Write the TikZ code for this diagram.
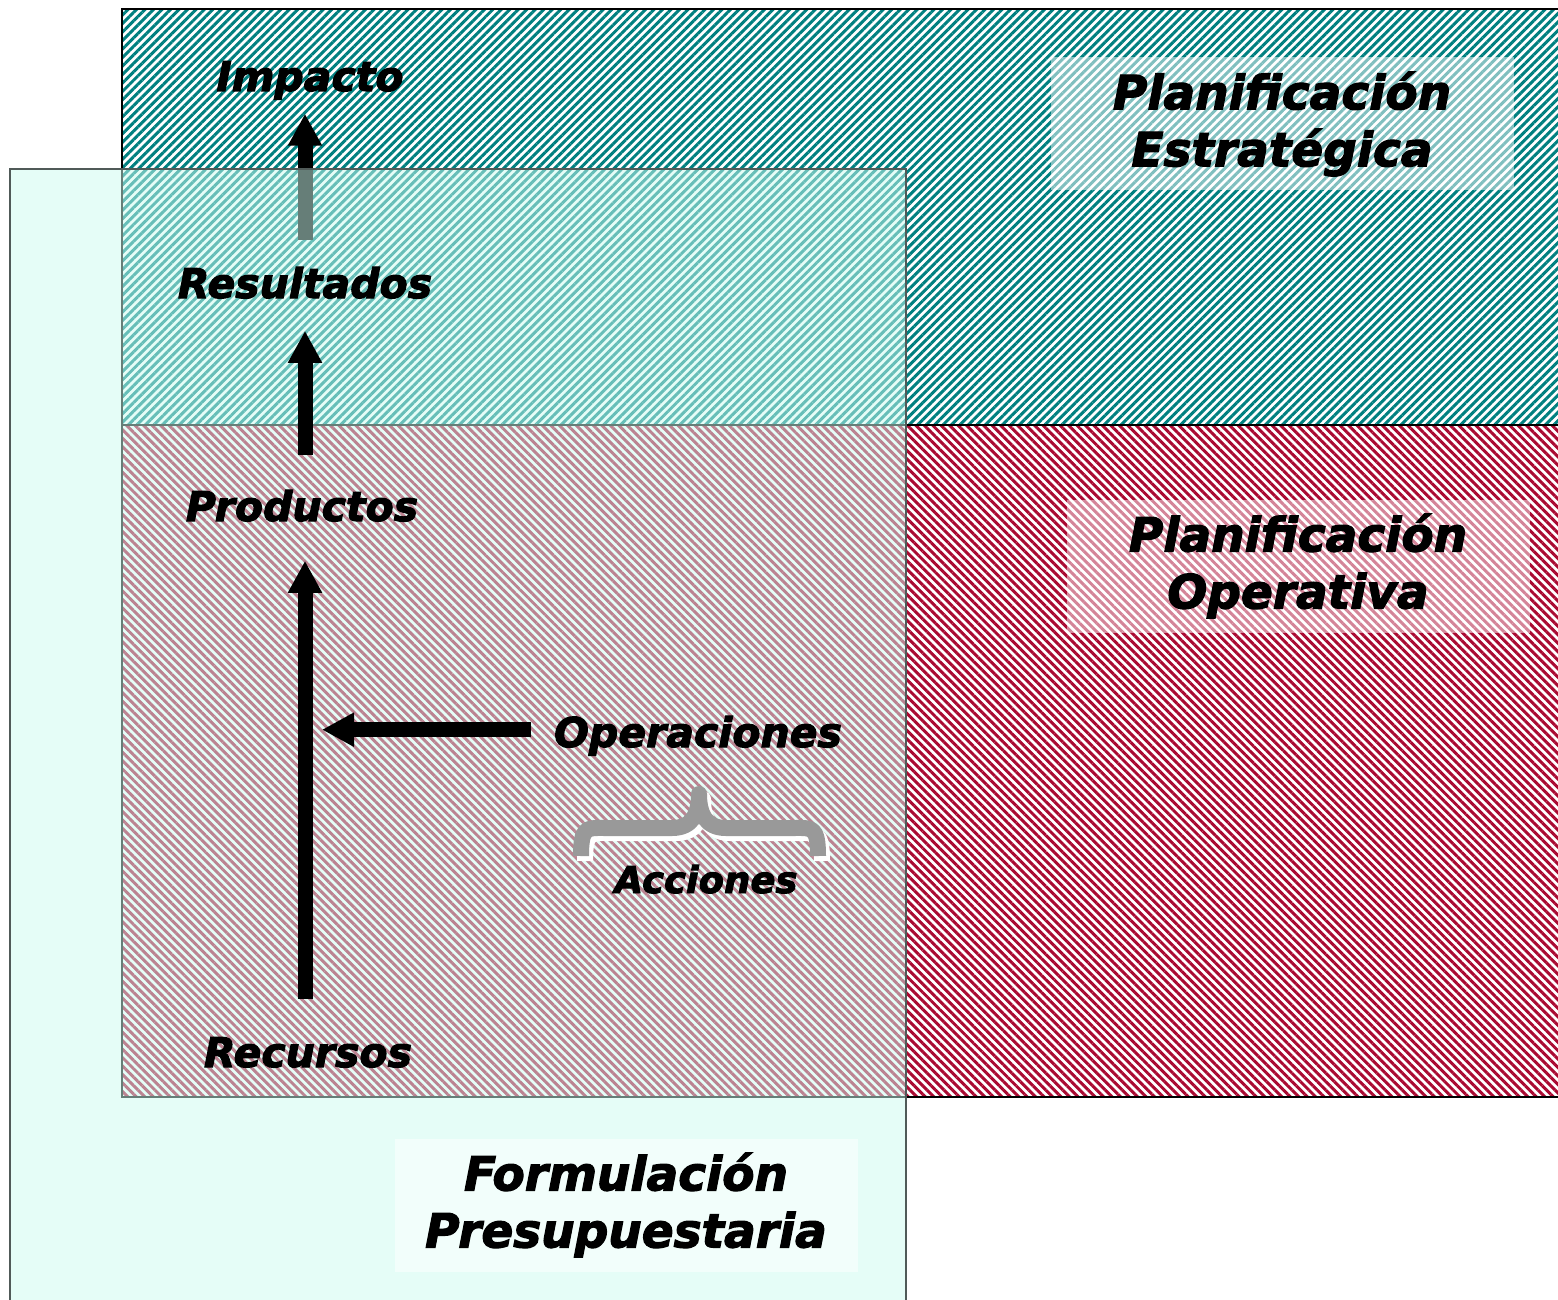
\documentclass[tikz,border=0pt]{standalone}
\usepackage{fontspec}
\setmainfont{DejaVu Sans}[BoldItalicFeatures={FakeBold=2.5}]
\usepackage{tikz}
\usetikzlibrary{arrows.meta,patterns.meta,positioning}
\pgfdeclarelayer{back}
\pgfdeclarelayer{veil}
\pgfsetlayers{back,veil,main}
\definecolor{PETeal}{RGB}{0,128,128}
\definecolor{PORed}{RGB}{170,10,50}
\definecolor{FPMint}{RGB}{205,252,240}
\definecolor{FPBorder}{RGB}{80,90,88}
\definecolor{BraceGray}{RGB}{153,153,153}
\tikzstyle{zone} = [draw=black,line width=2.5pt]
\tikzstyle{stage} = [font=\fontsize{41}{49}\selectfont\bfseries\itshape,inner sep=0pt,anchor=base]
\tikzstyle{title} = [font=\fontsize{47}{57}\selectfont\bfseries\itshape,align=center,inner sep=0pt,
	fill=white,fill opacity=.5,text opacity=1,minimum width=463pt,minimum height=133pt]
\tikzstyle{flow} = [line width=15pt,-{Triangle[width=32pt,length=32pt]}]
\tikzstyle{accbrace} = [line width=16pt,line join=round]

\begin{document}
\begin{tikzpicture}[x=1pt,y=-1pt]
	\useasboundingbox (0,0) rectangle (1558,1300);
	
	\node[stage] (impacto) at (310,91) {Impacto};
	\node[stage] (resultados) at (305,298) {Resultados};
	\node[stage] (productos) at (302,521) {Productos};
	\node[stage] (recursos) at (308,1067) {Recursos};
	\node[stage] (operaciones) at (698,747) {Operaciones};
	\node[stage,font=\fontsize{37}{44}\selectfont\bfseries\itshape] (acciones) at (706,893) {Acciones};
	
	\begin{pgfonlayer}{back}
	\fill[white] (0,0) rectangle (1558,1300);
	% hatched planning zones
	\fill[white] (122,9) rectangle (1562,1097);
	\draw[zone,pattern={Lines[angle=45,distance=6pt,line width=3pt]},pattern color=PETeal] (122,9) rectangle (1562,425);
	\draw[zone,pattern={Lines[angle=-45,distance=6pt,line width=3pt]},pattern color=PORed] (122,425) rectangle (1562,1097);
	\draw[flow,shorten <=27pt,shorten >=14pt] (resultados.north) -- (resultados.north |- impacto.south);
	\end{pgfonlayer}
	
	% budget zone on top
	\begin{pgfonlayer}{veil}
	\draw[FPBorder,line width=1.5pt,fill=FPMint,fill opacity=.5] (10,169) rectangle (906,1306);
	\end{pgfonlayer}
	
	\node[title] (estrategica) at (1282,124) {Planificación\\Estratégica};
	\node[title] (operativa) at (1298,566) {Planificación\\Operativa};
	\node[title] (presupuesto) at (626,1205) {Formulación\\Presupuestaria};
	
	\draw[flow,shorten <=35pt,shorten >=32pt] (productos.north -| resultados.north) -- (resultados.south);
	\draw[flow,shorten <=38pt,shorten >=39pt] (recursos.north -| resultados.north) -- (productos.south -| resultados.north);
	\draw[flow,shorten <=23pt,shorten >=17pt] ([yshift=6pt]operaciones.west) -- ([yshift=6pt]operaciones.west -| resultados.north);
	
	\coordinate (braceL) at (581,856);
	\coordinate (braceR) at (818,856);
	\coordinate (braceTip) at (699,794);
	\foreach \col/\dx/\dy in {white/4/5, BraceGray/0/0}
		\draw[accbrace,\col,transform canvas={shift={(\dx,\dy)}}] (braceL) .. controls +(0,-30) and +(-18,0) .. (605,828) -- (672,828)
			.. controls +(20,0) and +(0,20) .. (braceTip) .. controls +(0,20) and +(-20,0) .. (726,828) -- (794,828)
			.. controls +(18,0) and +(0,-30) .. (braceR);
\end{tikzpicture}
\end{document}
